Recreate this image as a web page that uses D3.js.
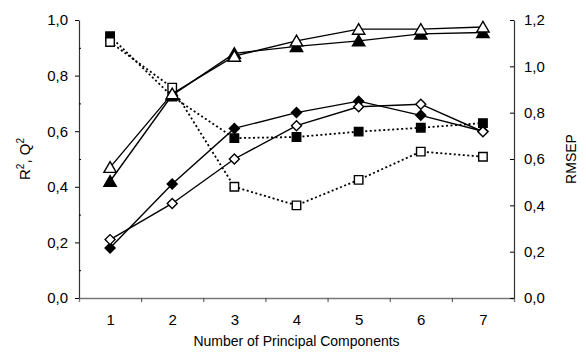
<!DOCTYPE html>
<html>
<head>
<meta charset="utf-8">
<script src="https://cdn.jsdelivr.net/npm/d3@7"></script>
<style>
  body { margin: 0; background: #fff; }
  svg text { font-family: "Liberation Sans", Arial, sans-serif; fill: #000; }
</style>
</head>
<body>
<div id="chart"></div>
<script>
// data
var components = [1, 2, 3, 4, 5, 6, 7];

// left axis (R2, Q2)
var r2Filled   = [0.42, 0.73, 0.88, 0.905, 0.925, 0.95, 0.955];   // filled triangles
var r2Open     = [0.47, 0.735, 0.87, 0.925, 0.967, 0.967, 0.975]; // open triangles
var q2Filled   = [0.18, 0.41, 0.61, 0.667, 0.708, 0.657, 0.60];   // filled diamonds
var q2Open     = [0.21, 0.34, 0.50, 0.62, 0.688, 0.697, 0.598];   // open diamonds

// right axis (RMSEP)
var rmsepFilled = [1.13, 0.87, 0.69, 0.695, 0.718, 0.735, 0.755]; // filled squares
var rmsepOpen   = [1.105, 0.908, 0.48, 0.40, 0.51, 0.632, 0.61];  // open squares

var leftTicks  = [0, 0.2, 0.4, 0.6, 0.8, 1.0];
var rightTicks = [0, 0.2, 0.4, 0.6, 0.8, 1.0, 1.2];

// dimensions
var svgWidth = 586, svgHeight = 354;
var plot = { left: 79, right: 514, top: 20, bottom: 298 };

var svg = d3.select("#chart")
    .append("svg")
        .attr("width", svgWidth)
        .attr("height", svgHeight);

// scales
var x = d3.scaleLinear().domain([0.5, 7.5]).range([plot.left, plot.right]);
var yLeft = d3.scaleLinear().domain([0, 1]).range([plot.bottom, plot.top]);
var yRight = d3.scaleLinear().domain([0, 1.2]).range([plot.bottom, plot.top]);

var comma = function(d) { return d.toFixed(1).replace(".", ","); };

// x axis: boundary ticks
var xTicks = svg.append("g")
    .attr("transform", "translate(0," + plot.bottom + ")")
    .call(d3.axisBottom(x).tickValues([1.5, 2.5, 3.5, 4.5, 5.5, 6.5]).tickSize(4).tickFormat(""));
xTicks.select(".domain").attr("stroke", "#777").attr("stroke-width", 1.3);
xTicks.selectAll(".tick line").attr("stroke", "#444");

// x axis labels
var xLabels = svg.append("g")
    .attr("transform", "translate(0," + plot.bottom + ")")
    .call(d3.axisBottom(x).tickValues(components).tickSize(0).tickPadding(16).tickFormat(d3.format("d")));
xLabels.select(".domain").remove();
xLabels.selectAll("text").style("font-size", "15px");

// left axis
var leftAxis = svg.append("g")
    .attr("transform", "translate(" + plot.left + ",0)")
    .call(d3.axisLeft(yLeft).tickValues(leftTicks).tickSize(4).tickPadding(7).tickSizeOuter(0).tickFormat(comma));
leftAxis.selectAll("text").style("font-size", "15px");
leftAxis.select(".domain").attr("stroke", "#333").attr("stroke-width", 1.2);

// left minor ticks
svg.append("g")
    .attr("transform", "translate(" + plot.left + ",0)")
    .call(d3.axisRight(yLeft).tickValues([0.1, 0.3, 0.5, 0.7, 0.9]).tickSize(2).tickFormat(""))
    .select(".domain").remove();

// right axis
var rightAxis = svg.append("g")
    .attr("transform", "translate(" + plot.right + ",0)")
    .call(d3.axisRight(yRight).tickValues(rightTicks).tickSizeInner(-4).tickSizeOuter(0).tickPadding(10).tickFormat(comma));
rightAxis.selectAll("text").style("font-size", "15px");
rightAxis.select(".domain").attr("stroke", "#333").attr("stroke-width", 1.2);

// axis titles
svg.append("text")
    .attr("x", (plot.left + plot.right) / 2)
    .attr("y", 346)
    .attr("text-anchor", "middle")
    .style("font-size", "14px")
    .text("Number of Principal Components");

var leftTitle = svg.append("text")
    .attr("transform", "translate(30," + (plot.top + plot.bottom) / 2 + ") rotate(-90)")
    .attr("text-anchor", "middle")
    .style("font-size", "15px");
leftTitle.append("tspan").text("R");
leftTitle.append("tspan").attr("dy", -6).style("font-size", "10px").text("2");
leftTitle.append("tspan").attr("dy", 6).text(", Q");
leftTitle.append("tspan").attr("dy", -6).style("font-size", "10px").text("2");

svg.append("text")
    .attr("transform", "translate(576," + (plot.top + plot.bottom) / 2 + ") rotate(-90)")
    .attr("text-anchor", "middle")
    .style("font-size", "14px")
    .text("RMSEP");

// series
var series = [
    { values: rmsepFilled, y: yRight, dotted: true,  shape: "square",   fill: "#000" },
    { values: rmsepOpen,   y: yRight, dotted: true,  shape: "square",   fill: "#fff" },
    { values: q2Filled,    y: yLeft,  dotted: false, shape: "diamond",  fill: "#000" },
    { values: q2Open,      y: yLeft,  dotted: false, shape: "diamond",  fill: "#fff" },
    { values: r2Filled,    y: yLeft,  dotted: false, shape: "triangle", fill: "#000" },
    { values: r2Open,      y: yLeft,  dotted: false, shape: "triangle", fill: "#fff" }
];

var shapes = {
    square:   { type: d3.symbolSquare,   size: 72,  rotate: 0,  dy: 0 },
    diamond:  { type: d3.symbolSquare,   size: 50,  rotate: 45, dy: 0 },
    triangle: { type: d3.symbolTriangle, size: 66,  rotate: 0,  dy: 1.5 }
};

series.forEach(function(s) {
    var pts = components.map(function(c, i) { return [c, s.values[i]]; });

    svg.append("path")
        .datum(pts)
        .attr("fill", "none")
        .attr("stroke", "#000")
        .attr("stroke-width", s.dotted ? 1.8 : 1.4)
        .attr("stroke-dasharray", s.dotted ? "2,2.5" : null)
        .attr("d", d3.line()
            .x(function(d) { return x(d[0]); })
            .y(function(d) { return s.y(d[1]); }));

    var shp = shapes[s.shape];
    svg.append("g").selectAll("path")
        .data(pts)
        .enter()
        .append("path")
            .attr("transform", function(d) {
                return "translate(" + x(d[0]) + "," + (s.y(d[1]) + shp.dy) + ") rotate(" + shp.rotate + ")";
            })
            .attr("d", d3.symbol().type(shp.type).size(shp.size))
            .attr("fill", s.fill)
            .attr("stroke", "#000")
            .attr("stroke-width", 1.4);
});
</script>
</body>
</html>
